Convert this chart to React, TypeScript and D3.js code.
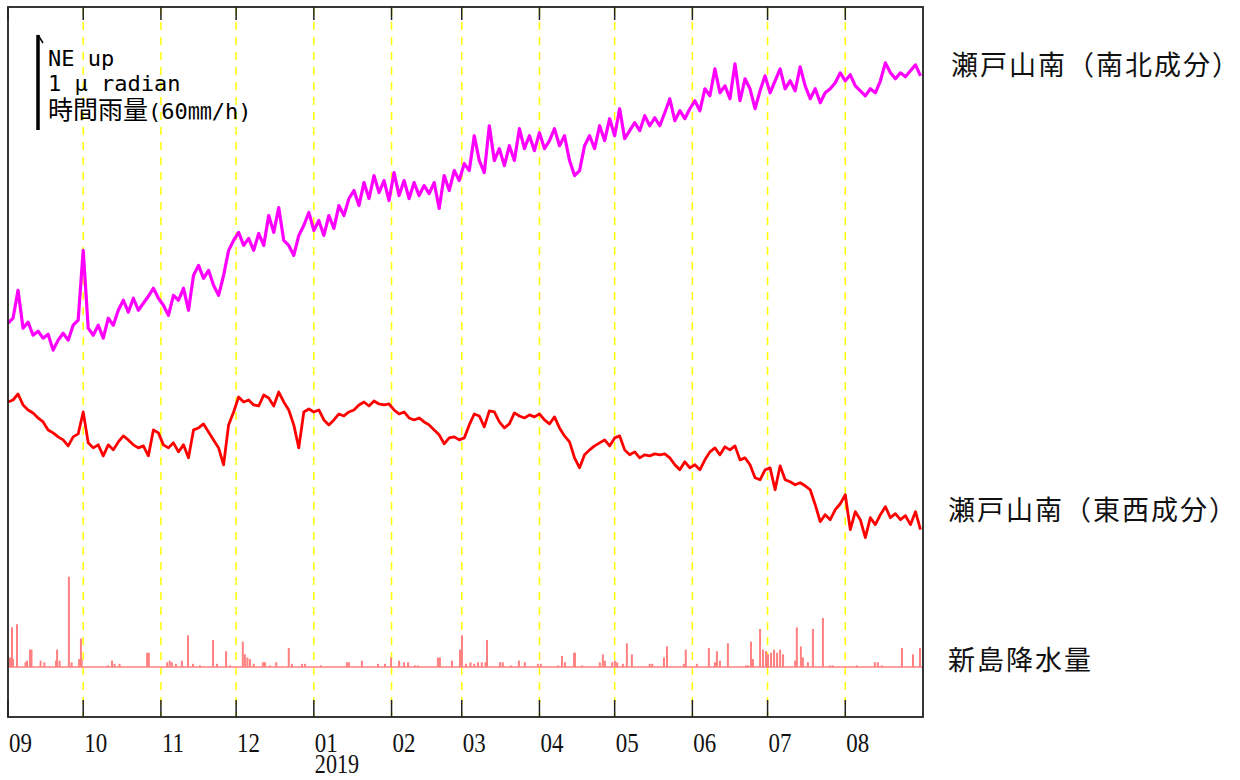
import * as React from 'react'
import * as d3 from 'd3'

// time axis: one year from 2018-09-01, tilt sampled every 2 days
const START = new Date(2018, 8, 1)
const END = new Date(2019, 8, 1)
const STEP_DAYS = 2

const monthLabels = ['09', '10', '11', '12', '01', '02', '03', '04', '05', '06', '07', '08']
const yearLabel = '2019'

// 瀬戸山南（南北成分）, nrad
const nsTilt = [
  808, 861, 1155, 756, 819, 682, 724, 651, 693, 525,
  630, 703, 630, 787, 840, 1575, 756, 682, 787, 651,
  861, 787, 945, 1050, 924, 1071, 945, 1018, 1092, 1176,
  1071, 997, 892, 1102, 1050, 1176, 945, 1312, 1417, 1281,
  1365, 1207, 1102, 1312, 1575, 1680, 1764, 1627, 1701, 1575,
  1753, 1627, 1942, 1764, 2026, 1680, 1627, 1522, 1732, 1837,
  1974, 1785, 1890, 1732, 1942, 1806, 2047, 1942, 2121, 2205,
  2047, 2289, 2121, 2362, 2184, 2310, 2100, 2394, 2152, 2310,
  2121, 2289, 2152, 2257, 2173, 2289, 2016, 2362, 2205, 2415,
  2310, 2488, 2415, 2782, 2520, 2394, 2887, 2520, 2646, 2467,
  2677, 2520, 2856, 2646, 2782, 2625, 2814, 2646, 2730, 2856,
  2677, 2782, 2520, 2362, 2415, 2677, 2782, 2646, 2887, 2730,
  2961, 2782, 3066, 2751, 2835, 2919, 2835, 2992, 2887, 2971,
  2887, 3024, 3171, 2940, 3045, 2961, 3066, 3150, 3045, 3276,
  3202, 3486, 3234, 3307, 3171, 3538, 3150, 3381, 3276, 3066,
  3255, 3412, 3234, 3360, 3486, 3276, 3360, 3255, 3507, 3307,
  3171, 3276, 3129, 3234, 3276, 3339, 3444, 3360, 3423, 3307,
  3255, 3202, 3276, 3234, 3360, 3549, 3444, 3381, 3444, 3402,
  3465, 3528, 3412,
]

// 瀬戸山南（東西成分）, nrad
const ewTilt = [
  -21, 0, 63, -52, -105, -136, -189, -231, -315, -346,
  -388, -420, -483, -388, -357, -126, -451, -504, -472, -588,
  -472, -525, -441, -378, -420, -472, -504, -483, -588, -315,
  -346, -472, -504, -451, -546, -472, -609, -315, -294, -252,
  -336, -420, -504, -682, -262, -126, 31, -21, 0, -52,
  -63, 52, 21, -63, 84, -21, -105, -262, -504, -126,
  -94, -126, -105, -210, -262, -210, -147, -168, -126, -105,
  -52, -21, -63, -10, -42, -52, -42, -105, -147, -126,
  -189, -210, -189, -231, -262, -315, -367, -462, -399, -388,
  -420, -399, -262, -147, -168, -283, -115, -126, -231, -294,
  -252, -136, -168, -189, -157, -178, -147, -210, -252, -178,
  -294, -378, -441, -609, -714, -577, -525, -483, -451, -420,
  -483, -399, -378, -525, -577, -546, -609, -577, -588, -567,
  -577, -567, -609, -682, -735, -651, -714, -682, -735, -630,
  -546, -504, -577, -493, -525, -483, -630, -609, -682, -819,
  -840, -735, -714, -945, -693, -840, -861, -892, -871, -903,
  -945, -1102, -1281, -1207, -1260, -1155, -1092, -997, -1365, -1176,
  -1260, -1449, -1239, -1312, -1207, -1123, -1239, -1197, -1260, -1218,
  -1312, -1176, -1365,
]

// 新島降水量: [days after 2018-09-01, mm/h]
const rain: [number, number][] = [
  [0.8, 6], [1.6, 25], [2.0, 5], [3.6, 27], [7, 3], [7.6, 4], [8.8, 11], [9.4, 11],
  [13, 4], [14.5, 3], [19.2, 4], [19.6, 11], [20.6, 4], [24.3, 57], [25.4, 3],
  [28.4, 5], [29.1, 18], [29.4, 5], [39.9, 1], [41.5, 4], [42.5, 2], [44.5, 2],
  [55.5, 9], [56.2, 9], [63.5, 3], [64.5, 4], [65.4, 3], [67, 2], [69.4, 4],
  [71.8, 20], [73.8, 2], [76.6, 1], [81.8, 17], [83.4, 2], [87, 10], [88.6, 1],
  [93.7, 16], [94.5, 8], [95.5, 6], [96.5, 5], [98, 2], [101.7, 3], [102.5, 3],
  [104.5, 1], [107, 3], [112, 12], [113.3, 2], [117.3, 2], [118.5, 2], [124.9, 1],
  [135.2, 3], [136, 3], [141.2, 4], [147.6, 2], [150.4, 2], [152.8, 6], [156, 4],
  [158, 3], [159.6, 3], [162.3, 1], [163.5, 1], [171.5, 6], [172.3, 6], [177.1, 4],
  [180.3, 11], [181.1, 20], [182.7, 2], [184.5, 3], [186, 2], [187.5, 3], [189, 3],
  [190.5, 3], [191.1, 17], [196.3, 3], [197.4, 3], [200.6, 1], [203.8, 4], [206.2, 3],
  [211.4, 2], [212.6, 2], [219.4, 1], [221, 7], [222.2, 3], [225.8, 9], [226.2, 9],
  [229, 1], [236.1, 3], [237.3, 8], [238.1, 4], [241, 3], [242.1, 4], [243, 3],
  [245.3, 2], [246.9, 15], [248.9, 8], [256, 2], [257, 2], [261.7, 6], [262.9, 13],
  [269.6, 2], [270.4, 11], [274.8, 2], [279.6, 12], [282, 3], [282.8, 10], [284, 4],
  [287.2, 15], [294.4, 1], [295.2, 1], [296.4, 16], [297.2, 5], [300, 24], [301.2, 11],
  [302.4, 10], [303.2, 8], [304.4, 9], [305.6, 11], [306.8, 9], [308, 11], [309.2, 8],
  [314, 4], [314.7, 25], [316.3, 13], [317.1, 6], [319.1, 3], [321.1, 24], [325.1, 31],
  [327.9, 1], [329, 1], [338.6, 1], [345.8, 3], [347, 3], [348.6, 1], [356.6, 12],
  [361, 8], [363.8, 12],
]

const seriesLabels = ['瀬戸山南（南北成分）', '瀬戸山南（東西成分）', '新島降水量']

const MONO = '"DejaVu Sans Mono", monospace'
const CJK = '"Noto Sans CJK JP", sans-serif'
const SERIF = '"Liberation Serif", serif'

export default function App() {
  const width = 1240
  const height = 780
  const left = 8
  const right = 923
  const top = 7
  const bottom = 717

  const x = d3.scaleTime().domain([START, END]).range([left, right])
  // 1 μradian = 95 px
  const tiltY = d3.scaleLinear().domain([0, 1000]).range([400, 305])
  // 60 mm/h = same length as 1 μradian
  const rainY = d3.scaleLinear().domain([0, 60]).range([667, 572])

  const sampleDate = (i: number) => d3.timeDay.offset(START, i * STEP_DAYS)
  const tiltLine = d3
    .line<number>()
    .x((_, i) => x(sampleDate(i)))
    .y((d) => tiltY(d))

  const months = d3.timeMonth.range(START, END)
  const unitLen = tiltY(0) - tiltY(1000)
  const barBottom = 130

  return (
    <svg
      width={width}
      height={height}
      style={{ position: 'absolute', left: 0, top: 0, background: '#fff' }}
    >
      <defs>
        <clipPath id="plot">
          <rect x={left} y={top} width={right - left} height={bottom - top} />
        </clipPath>
      </defs>

      {months.slice(1).map((m, i) => (
        <line
          key={'g' + i}
          x1={x(m)}
          x2={x(m)}
          y1={top}
          y2={bottom}
          stroke="#ffff00"
          strokeWidth={1.5}
          strokeDasharray="8 7"
        />
      ))}

      <g clipPath="url(#plot)">
        <line
          x1={left}
          x2={right}
          y1={rainY(0)}
          y2={rainY(0)}
          stroke="#ff8080"
          strokeWidth={1.5}
        />
        {rain.map(([day, mm], i) => (
          <rect
            key={'r' + i}
            x={x(d3.timeHour.offset(START, day * 24)) - 1}
            y={rainY(mm)}
            width={2}
            height={rainY(0) - rainY(mm)}
            fill="#ff8080"
          />
        ))}
        <path d={tiltLine(nsTilt) ?? ''} fill="none" stroke="#ff00ff" strokeWidth={3.2} strokeLinejoin="round" />
        <path d={tiltLine(ewTilt) ?? ''} fill="none" stroke="#ff0000" strokeWidth={2.8} strokeLinejoin="round" />
      </g>

      {months.map((m, i) => (
        <g key={'t' + i}>
          <line x1={x(m)} x2={x(m)} y1={top} y2={top + 13} stroke="#222" strokeWidth={1.5} />
          <line x1={x(m)} x2={x(m)} y1={bottom - 17} y2={bottom} stroke="#222" strokeWidth={1.5} />
          <text
            transform={`translate(${x(m) + 1},752) scale(0.82,1)`}
            fontFamily={SERIF}
            fontSize={28}
            fill="#111"
          >
            {monthLabels[i]}
          </text>
        </g>
      ))}
      <text
        transform={`translate(${x(months[4]) + 1},773) scale(0.82,1)`}
        fontFamily={SERIF}
        fontSize={27}
        fill="#111"
      >
        {yearLabel}
      </text>

      <rect
        x={left}
        y={top}
        width={right - left}
        height={bottom - top}
        fill="none"
        stroke="#222"
        strokeWidth={1.8}
      />

      <line x1={38} x2={38} y1={barBottom} y2={barBottom - unitLen} stroke="#000" strokeWidth={3.5} />
      <path d={`M38,${barBottom - unitLen} L43,${barBottom - unitLen + 8}`} stroke="#000" strokeWidth={1.5} fill="none" />
      <text x={48} y={66} fontFamily={MONO} fontSize={22} fill="#000">
        NE up
      </text>
      <text x={48} y={91} fontFamily={MONO} fontSize={22} fill="#000">
        1 μ radian
      </text>
      <text x={48} y={119} fill="#000">
        <tspan fontFamily={CJK} fontSize={25}>時間雨量</tspan>
        <tspan fontFamily={MONO} fontSize={22}>(60</tspan>
        <tspan fontFamily={CJK} fontSize={24}>㎜</tspan>
        <tspan fontFamily={MONO} fontSize={22}>/h)</tspan>
      </text>

      {seriesLabels.map((s, i) => (
        <text
          key={'l' + i}
          x={i === 0 ? 951 : 948}
          y={[75, 520, 670][i]}
          fontFamily={CJK}
          fontSize={27}
          letterSpacing={2}
          fill="#111"
        >
          {s}
        </text>
      ))}
    </svg>
  )
}
